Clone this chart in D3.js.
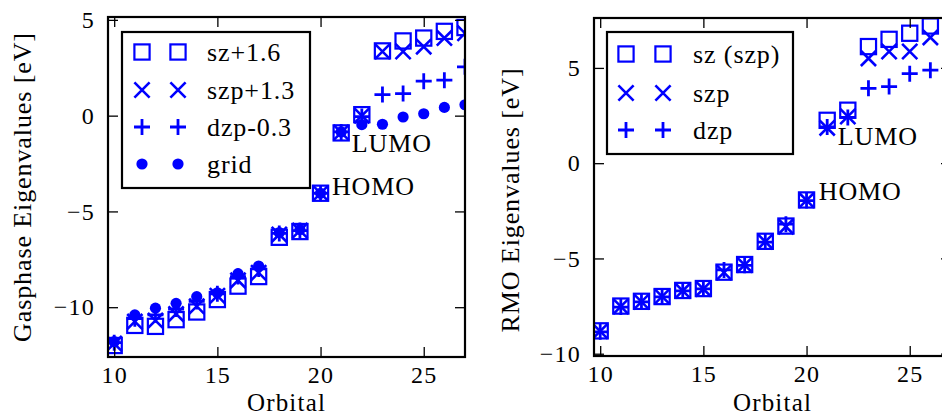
<!DOCTYPE html>
<html>
<head>
<meta charset="utf-8">
<script src="https://cdn.jsdelivr.net/npm/d3@7"></script>
<style>
  html, body { margin: 0; padding: 0; background: #fff; }
  svg { display: block; overflow: hidden; }
  text { font-family: "Liberation Serif", "DejaVu Serif", serif; fill: #000; letter-spacing: 0.9px; }
</style>
</head>
<body>
<svg id="chart" width="942" height="417"></svg>
<script>
// Orbital index on the x axis
const orbitals = [10, 11, 12, 13, 14, 15, 16, 17, 18, 19, 20, 21, 22, 23, 24, 25, 26, 27];

// Gas-phase eigenvalues (eV), shifted per basis set as in the legend
const gasSz   = [-12.0, -10.95, -11.0, -10.65, -10.25, -9.6, -8.9, -8.4, -6.35, -6.05, -4.05, -0.9, 0.05, 3.38, 3.9, 4.05, 4.4, 4.6];
const gasSzp  = [-11.9, -10.75, -10.7, -10.35, -9.95, -9.4, -8.6, -8.2, -6.2, -6.0, -4.05, -0.88, 0.0, 3.35, 3.35, 3.6, 4.05, 4.3];
const gasDzp  = [-11.85, -10.6, -10.4, -10.1, -9.7, -9.3, -8.4, -8.0, -6.15, -6.0, -4.05, -0.85, -0.05, 1.1, 1.15, 1.8, 1.85, 2.55];
const gasGrid = [-11.8, -10.4, -10.05, -9.8, -9.45, -9.25, -8.25, -7.85, -6.1, -5.95, -4.05, -0.85, -0.47, -0.45, -0.07, 0.1, 0.43, 0.57];

// RMO eigenvalues (eV)
const rmoSz  = [-8.8, -7.5, -7.25, -7.0, -6.68, -6.58, -5.72, -5.32, -4.1, -3.3, -1.93, 2.25, 2.78, 6.12, 6.5, 6.82, 7.2, 7.5];
const rmoSzp = [-8.82, -7.52, -7.27, -7.0, -6.7, -6.6, -5.74, -5.34, -4.12, -3.33, -1.95, 1.85, 2.45, 5.5, 5.86, 5.86, 6.6, 6.9];
const rmoDzp = [-8.85, -7.55, -7.28, -7.02, -6.7, -6.6, -5.6, -5.36, -4.14, -3.2, -1.96, 1.9, 2.4, 3.93, 4.02, 4.7, 4.88, 5.1];

// Tick values
const xTicks = [10, 15, 20, 25];
const yTicks = [-10, -5, 0, 5];

// Legend labels
const gasLabels = ["sz+1.6", "szp+1.3", "dzp-0.3", "grid"];
const rmoLabels = ["sz (szp)", "szp", "dzp"];

const BLUE = "#0000ff";
const FONT_SIZE = "26px";
const TICK_FONT = "24px";
const svg = d3.select("#chart");

// Marker drawing: square outline, x, plus, filled dot
function drawMarker(g, type, cx, cy) {
  if (type === "square") {
    const s = 7.6;
    g.append("rect").attr("x", cx - s).attr("y", cy - s).attr("width", 2 * s).attr("height", 2 * s)
      .attr("fill", "none").attr("stroke", BLUE).attr("stroke-width", 2.2);
  } else if (type === "x") {
    const s = 7.6;
    g.append("path").attr("d", `M${cx - s},${cy - s}L${cx + s},${cy + s}M${cx - s},${cy + s}L${cx + s},${cy - s}`)
      .attr("fill", "none").attr("stroke", BLUE).attr("stroke-width", 2.6);
  } else if (type === "plus") {
    const s = 8;
    g.append("path").attr("d", `M${cx - s},${cy}L${cx + s},${cy}M${cx},${cy - s}L${cx},${cy + s}`)
      .attr("fill", "none").attr("stroke", BLUE).attr("stroke-width", 2.8);
  } else if (type === "dot") {
    g.append("circle").attr("cx", cx).attr("cy", cy).attr("r", 5.6).attr("fill", BLUE);
  }
}

function panel(opts) {
  const { id, xRange, yRange, yDomain, series, labels, ylabel, ylabelPos, legend, notes } = opts;
  const x = d3.scaleLinear().domain([9.7, 27]).range(xRange);
  const y = d3.scaleLinear().domain(yDomain).range(yRange);
  const g = svg.append("g");

  const clipId = "clip-" + id;
  svg.append("clipPath").attr("id", clipId).append("rect")
    .attr("x", xRange[0]).attr("y", yRange[1])
    .attr("width", xRange[1] - xRange[0]).attr("height", yRange[0] - yRange[1]);

  // data markers
  const marks = g.append("g").attr("clip-path", `url(#${clipId})`);
  series.forEach(s => {
    const sg = marks.append("g");
    orbitals.forEach((o, i) => drawMarker(sg, s.type, x(o), y(s.values[i])));
  });

  // axes (inward ticks on all four sides)
  const fmt = d => d3.format("d")(d).replace("-", "\u2212");
  const bottom = g.append("g").attr("transform", `translate(0,${yRange[0]})`)
    .call(d3.axisBottom(x).tickValues(xTicks).tickSize(-10).tickPadding(9).tickFormat(fmt));
  const top = g.append("g").attr("transform", `translate(0,${yRange[1]})`)
    .call(d3.axisTop(x).tickValues(xTicks).tickSize(-10).tickFormat(""));
  const left = g.append("g").attr("transform", `translate(${xRange[0]},0)`)
    .call(d3.axisLeft(y).tickValues(yTicks).tickSize(-10).tickPadding(13).tickFormat(fmt));
  const right = g.append("g").attr("transform", `translate(${xRange[1]},0)`)
    .call(d3.axisRight(y).tickValues(yTicks).tickSize(-10).tickFormat(""));
  [bottom, top, left, right].forEach(a => {
    a.select(".domain").remove();
    a.selectAll(".tick line").attr("stroke", "#000").attr("stroke-width", 1.3);
    a.selectAll(".tick text").style("font-family", "'Liberation Serif', serif").style("font-size", TICK_FONT)
      .style("letter-spacing", "1.2px").attr("fill", "#000");
  });
  bottom.selectAll(".tick text").attr("dy", "0.71em");

  // frame
  g.append("rect").attr("x", xRange[0]).attr("y", yRange[1])
    .attr("width", xRange[1] - xRange[0]).attr("height", yRange[0] - yRange[1])
    .attr("fill", "none").attr("stroke", "#000").attr("stroke-width", 2.2);

  // axis labels
  g.append("text").attr("x", (xRange[0] + xRange[1]) / 2).attr("y", 411)
    .attr("text-anchor", "middle").style("font-size", "25px").style("letter-spacing", "1.2px").text("Orbital");
  g.append("text").attr("transform", `translate(${ylabelPos[0]},${ylabelPos[1]}) rotate(-90)`)
    .attr("text-anchor", "middle").style("font-size", FONT_SIZE).text(ylabel);

  // HOMO / LUMO annotations
  notes.forEach(n => {
    g.append("text").attr("x", x(n.x)).attr("y", y(n.y)).style("font-size", FONT_SIZE).text(n.text);
  });

  // legend
  const lg = g.append("g");
  lg.append("rect").attr("x", legend.x0).attr("y", legend.y0)
    .attr("width", legend.x1 - legend.x0).attr("height", legend.y1 - legend.y0)
    .attr("fill", "#fff").attr("stroke", "#000").attr("stroke-width", 2.2);
  series.forEach((s, i) => {
    const cy = legend.rowY[i];
    drawMarker(lg, s.type, legend.m1, cy);
    drawMarker(lg, s.type, legend.m2, cy);
    lg.append("text").attr("x", legend.tx).attr("y", cy).attr("dy", "0.33em")
      .style("font-size", FONT_SIZE).text(labels[i]);
  });
}

panel({
  id: "gas",
  xRange: [108, 465], yRange: [357, 17], yDomain: [-12.6, 5.15],
  series: [
    { type: "square", values: gasSz },
    { type: "x", values: gasSzp },
    { type: "plus", values: gasDzp },
    { type: "dot", values: gasGrid }
  ],
  labels: gasLabels,
  ylabel: "Gasphase Eigenvalues [eV]", ylabelPos: [31, 187],
  legend: { x0: 122, y0: 32, x1: 310, y1: 188, m1: 142, m2: 178, tx: 207, rowY: [52, 90, 127, 164] },
  notes: [ { text: "HOMO", x: 20.55, y: -4.13 }, { text: "LUMO", x: 21.51, y: -1.88 } ]
});

panel({
  id: "rmo",
  xRange: [594, 951], yRange: [356, 18], yDomain: [-10.12, 7.62],
  series: [
    { type: "square", values: rmoSz },
    { type: "x", values: rmoSzp },
    { type: "plus", values: rmoDzp }
  ],
  labels: rmoLabels,
  ylabel: "RMO Eigenvalues [eV]", ylabelPos: [519, 200],
  legend: { x0: 607, y0: 32, x1: 793, y1: 154, m1: 626, m2: 663, tx: 693, rowY: [54, 93, 130] },
  notes: [ { text: "HOMO", x: 20.59, y: -1.93 }, { text: "LUMO", x: 21.51, y: 0.96 } ]
});
</script>
</body>
</html>
